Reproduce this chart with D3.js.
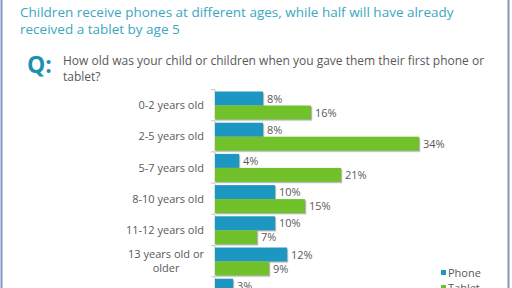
<!DOCTYPE html>
<html>
<head>
<meta charset="utf-8">
<script src="https://cdn.jsdelivr.net/npm/d3@7"></script>
<style>
  html, body { margin: 0; padding: 0; background: #fff; }
  svg { display: block; font-family: "Open Sans", "DejaVu Sans", sans-serif; }
</style>
</head>
<body>
<div id="chart"></div>
<script>
// Data
const categories = ["0-2 years old", "2-5 years old", "5-7 years old", "8-10 years old",
  "11-12 years old", "13 years old or older", "Other"];
const phoneValues = [8, 8, 4, 10, 10, 12, 3];
const tabletValues = [16, 34, 21, 15, 7, 9, 5];
const seriesNames = ["Phone", "Tablet"];
const titleLines = ["Children receive phones at different ages, while half will have already",
  "received a tablet by age 5"];
const questionLines = ["How old was your child or children when you gave them their first phone or",
  "tablet?"];

const width = 512, height = 288;
const colors = { Phone: "#1f97c1", Tablet: "#6fc12c" };
const grey = "#595959";

const rows = categories.map((c, i) => ({ cat: c, Phone: phoneValues[i], Tablet: tabletValues[i] }));

const svg = d3.select("#chart").append("svg")
  .attr("width", width)
  .attr("height", height);

// soft drop shadow on the bars, like the office chart
const defs = svg.append("defs");
defs.append("filter").attr("id", "shadow")
  .attr("x", "-10%").attr("y", "-20%").attr("width", "130%").attr("height", "160%")
  .append("feDropShadow")
  .attr("dx", 1.2).attr("dy", 1.2).attr("stdDeviation", 0.7)
  .attr("flood-color", "#777").attr("flood-opacity", 0.55);

// slide frame
svg.append("line").attr("x1", 1.5).attr("x2", 1.5).attr("y1", 0).attr("y2", height)
  .attr("stroke", "#7f98c2").attr("stroke-width", 2);
svg.append("line").attr("x1", 508.5).attr("x2", 508.5).attr("y1", 0).attr("y2", height)
  .attr("stroke", "#7f98c2").attr("stroke-width", 2);

// headline
svg.append("g").selectAll("text")
  .data(titleLines)
  .join("text")
  .attr("x", 20)
  .attr("y", (d, i) => 17 + i * 17)
  .attr("fill", "#3aa7c2")
  .style("font-size", "13.5px")
  .text(d => d);

// "Q:" and question
svg.append("text")
  .attr("x", 27).attr("y", 73)
  .attr("fill", "#1b91b0")
  .style("font-size", "23px")
  .style("font-weight", "bold")
  .text("Q:");

svg.append("g").selectAll("text")
  .data(questionLines)
  .join("text")
  .attr("x", 63)
  .attr("y", (d, i) => 64.5 + i * 16)
  .attr("fill", grey)
  .style("font-size", "12px")
  .text(d => d);

// scales
const x = d3.scaleLinear().domain([0, 40]).range([215, 455]);
const y = d3.scaleBand().domain(categories).range([89.5, 89.5 + 31.2 * categories.length]);
const ySub = d3.scaleBand().domain(seriesNames).range([2, 30]);

const chart = svg.append("g");

// category axis: light line with ticks at band boundaries
chart.append("line")
  .attr("x1", x(0)).attr("x2", x(0))
  .attr("y1", y.range()[0]).attr("y2", y.range()[1])
  .attr("stroke", "#c8c8c8");
chart.append("g").selectAll("line")
  .data(categories)
  .join("line")
  .attr("x1", x(0) - 4).attr("x2", x(0))
  .attr("y1", d => y(d)).attr("y2", d => y(d))
  .attr("stroke", "#c8c8c8");

// bars
const groups = chart.append("g").selectAll("g")
  .data(rows)
  .join("g")
  .attr("transform", d => `translate(0,${y(d.cat)})`);

groups.selectAll("rect")
  .data(d => seriesNames.map(s => ({ key: s, value: d[s] })))
  .join("rect")
  .attr("x", x(0))
  .attr("y", d => ySub(d.key))
  .attr("width", d => x(d.value) - x(0))
  .attr("height", ySub.bandwidth())
  .attr("fill", d => colors[d.key])
  .attr("filter", "url(#shadow)");

groups.selectAll("text.val")
  .data(d => seriesNames.map(s => ({ key: s, value: d[s] })))
  .join("text")
  .attr("class", "val")
  .attr("x", d => x(d.value) + 4)
  .attr("y", d => ySub(d.key) + ySub.bandwidth() / 2 + 4)
  .attr("fill", grey)
  .style("font-size", "11px")
  .text(d => d.value + "%");

// category labels, wrapped and centred like PowerPoint does
const labelRight = 204;
chart.append("g").selectAll("text")
  .data(categories)
  .join("text")
  .attr("fill", grey)
  .style("font-size", "11px")
  .each(function(d) {
    const t = d3.select(this);
    const words = d.split(" ");
    const lines = [];
    let line = [];
    words.forEach(w => {
      line.push(w);
      t.text(line.join(" "));
      if (this.getComputedTextLength() > 88 && line.length > 1) {
        line.pop();
        lines.push(line.join(" "));
        line = [w];
      }
    });
    lines.push(line.join(" "));
    t.text(null);
    const spans = lines.map(l => t.append("tspan").text(l));
    const maxW = d3.max(spans, s => s.node().getComputedTextLength());
    const cy = y(d) + y.bandwidth() / 2;
    const lh = 14;
    spans.forEach((s, i) => {
      s.attr("x", labelRight - maxW / 2)
        .attr("text-anchor", "middle")
        .attr("y", cy + 4 + (i - (lines.length - 1) / 2) * lh);
    });
  });

// legend
const legend = svg.append("g").selectAll("g")
  .data(seriesNames)
  .join("g")
  .attr("transform", (d, i) => `translate(441,${273 + i * 15})`);
legend.append("rect")
  .attr("x", 0).attr("y", -3).attr("width", 5).attr("height", 5)
  .attr("fill", d => colors[d]);
legend.append("text")
  .attr("x", 7).attr("y", 4)
  .attr("fill", grey)
  .style("font-size", "11px")
  .text(d => d);
</script>
</body>
</html>
